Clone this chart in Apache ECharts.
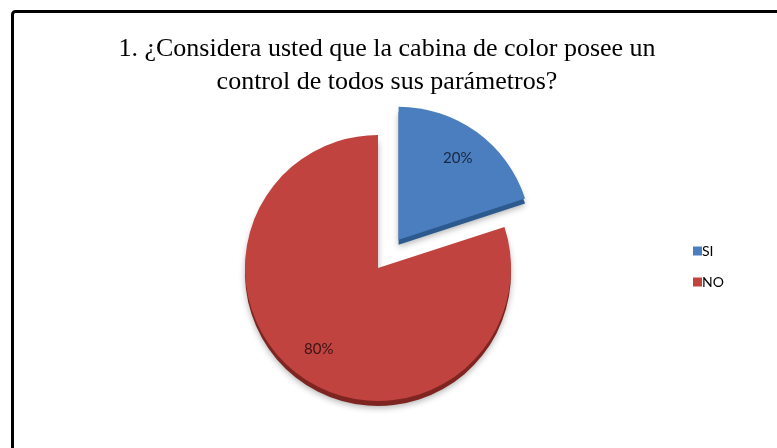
<!DOCTYPE html>
<html>
<head>
<meta charset="utf-8">
<script src="https://cdn.jsdelivr.net/npm/echarts@6/dist/echarts.min.js"></script>
<style>
  html, body { margin: 0; padding: 0; background: #fff; }
  #chart { width: 777px; height: 448px; }
</style>
</head>
<body>
<div id="chart"></div>
<script>
// Survey answers
const titleLines = ['1. ¿Considera usted que la cabina de color posee un', 'control de todos sus parámetros?'];
const categories = ['SI', 'NO'];
const percentages = [20, 80];
const sliceColors = ['#4A7EBF', '#C0433F'];
const rimColors = ['#2C5A8F', '#7E2421'];

const center = [378, 268];
const radius = 133;
const explode = 35;

function sliceData(colors) {
  return categories.map((name, i) => ({
    name: name,
    value: percentages[i],
    selected: name === 'SI',
    itemStyle: { color: colors[i] }
  }));
}

const chart = echarts.init(document.getElementById('chart'), null, { renderer: 'canvas' });

chart.setOption({
  animation: false,
  backgroundColor: '#ffffff',
  title: {
    text: titleLines.join('\n'),
    left: 382,
    textAlign: 'center',
    top: 28,
    textStyle: {
      fontFamily: 'Liberation Serif',
      fontWeight: 'normal',
      fontSize: 26,
      lineHeight: 33,
      color: '#000'
    }
  },
  legend: {
    orient: 'vertical',
    left: 688,
    top: 239,
    itemWidth: 9,
    itemHeight: 9,
    itemGap: 17,
    icon: 'rect',
    data: categories,
    textStyle: { fontFamily: 'Lato', fontSize: 14, color: '#000', padding: [0, 0, 0, -5] }
  },
  graphic: [{
    type: 'rect',
    shape: { x: 12.5, y: 11.5, width: 820, height: 520, r: 3 },
    style: { fill: 'none', stroke: '#000', lineWidth: 3 },
    silent: true,
    z: 100
  }],
  series: [
    // slice faces
    {
      type: 'pie',
      center: center,
      radius: radius,
      selectedMode: 'multiple',
      selectedOffset: explode,
      clockwise: true,
      startAngle: 90,
      silent: true,
      label: { show: false },
      labelLine: { show: false },
      data: sliceData(sliceColors),
      z: 2
    },
    // lower rim giving the slices their depth
    {
      type: 'pie',
      center: [center[0], center[1] + 5],
      radius: radius,
      selectedMode: 'multiple',
      selectedOffset: explode,
      clockwise: true,
      startAngle: 90,
      silent: true,
      legendHoverLink: false,
      label: { show: false },
      labelLine: { show: false },
      itemStyle: { shadowBlur: 6, shadowColor: 'rgba(0,0,0,0.3)', shadowOffsetY: 2 },
      data: sliceData(rimColors),
      z: 1
    },
    // percentage labels set further out along each slice
    {
      type: 'pie',
      center: center,
      radius: radius * 1.47,
      selectedMode: 'multiple',
      selectedOffset: explode,
      clockwise: true,
      startAngle: 90,
      silent: true,
      legendHoverLink: false,
      label: {
        show: true,
        position: 'inside',
        formatter: p => p.value + '%',
        fontFamily: 'Lato',
        fontSize: 15
      },
      labelLine: { show: false },
      data: categories.map((name, i) => ({
        name: name,
        value: percentages[i],
        selected: name === 'SI',
        itemStyle: { color: 'rgba(0,0,0,0)' },
        label: { color: i === 0 ? '#1a2740' : '#3a1414' }
      })),
      z: 3
    }
  ]
});
</script>
</body>
</html>
